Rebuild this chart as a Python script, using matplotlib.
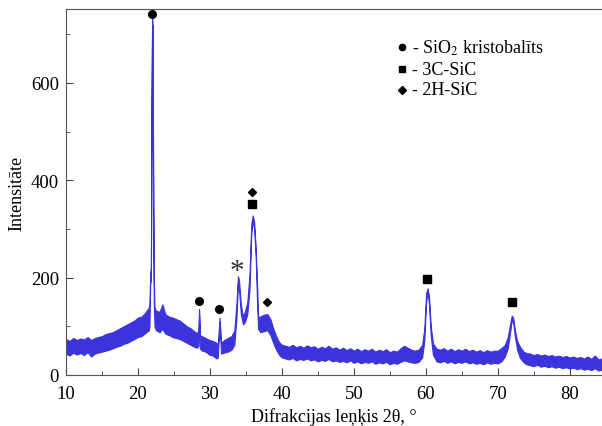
import matplotlib.pyplot as plt
from matplotlib.ticker import MultipleLocator

plt.rcParams['font.family'] = ['Liberation Serif', 'DejaVu Serif']
plt.rcParams['mathtext.fontset'] = 'stix'

# 2theta positions and the lower / upper edge of the noisy trace
two_theta = [10, 10.5, 11, 11.5, 12, 12.5, 13, 13.5, 14, 14.5, 15, 15.5, 16, 16.5, 17, 17.5,
             18, 18.5, 19, 19.5, 20, 20.5, 21, 21.5,
             21.6, 21.7, 21.8, 21.9, 21.97, 22.04, 22.12, 22.2, 22.3,
             22.5, 23.0, 23.4, 23.8, 24.3, 24.8, 25.3, 25.8, 26.3, 26.8, 27.3, 27.8, 28.2, 28.4,
             28.5, 28.6, 28.9, 29.4, 29.9, 30.4, 30.9, 31.1, 31.35, 31.55, 32.0, 32.5, 33.0, 33.4,
             33.7, 33.9, 34.05, 34.3, 34.6, 34.9, 35.2, 35.5, 35.75, 35.95, 36.15, 36.35, 36.55,
             36.7, 37.0, 37.5, 38.0, 38.4, 38.8, 39.2, 39.6, 40.0,
             40.5, 41, 41.5, 42, 42.5, 43, 43.5, 44, 44.5, 45, 45.5, 46, 46.5, 47, 47.5, 48, 48.5,
             49, 49.5, 50, 50.5, 51, 51.5, 52, 52.5, 53, 53.5, 54, 54.5, 55, 55.5, 56, 56.5, 57,
             57.5, 58, 58.5, 59, 59.5,
             59.8, 60.05, 60.25, 60.45, 60.7, 61.0, 61.5,
             62, 62.5, 63, 63.5, 64, 64.5, 65, 65.5, 66, 66.5, 67, 67.5, 68, 68.5, 69, 69.5, 70, 70.5,
             71.0, 71.4, 71.7, 71.95, 72.15, 72.4, 72.7, 73.1, 73.6, 74.0,
             74.5, 75, 75.5, 76, 76.5, 77, 77.5, 78, 78.5, 79, 79.5, 80, 80.5, 81, 81.5, 82, 82.5,
             83, 83.5, 84, 84.5]
i_low = [44, 40, 46, 42, 45, 41, 47, 38, 44, 46, 48, 50, 52, 55, 58, 60,
         64, 66, 70, 74, 78, 80, 86, 92,
         100, 185, 195, 560, 720, 690, 350, 150, 100,
         92, 88, 95, 85, 82, 78, 76, 74, 70, 66, 62, 58, 56, 60,
         125, 55, 50, 48, 42, 40, 34, 36, 108, 44, 46, 48, 52, 62,
         120, 190, 175, 125, 104, 110, 125, 175, 290, 318, 300, 250, 150,
         95, 88, 90, 92, 82, 66, 52, 42, 36,
         34, 32, 35, 30, 33, 31, 34, 30, 32, 28, 31, 29, 33, 28, 30, 27, 29,
         26, 30, 25, 28, 24, 27, 25, 28, 23, 26, 24, 27, 22, 25, 23, 27, 30,
         28, 26, 25, 27, 36,
         70, 150, 170, 145, 80, 42, 28,
         26, 29, 25, 28, 24, 27, 25, 28, 24, 26, 23, 25, 22, 26, 23, 25, 24, 28,
         38, 55, 85, 112, 108, 78, 52, 35, 26, 22,
         20, 18, 21, 17, 19, 16, 18, 15, 17, 14, 16, 13, 15, 12, 14, 11, 13,
         10, 14, 9, 11]
i_high = [74, 70, 76, 72, 75, 73, 78, 72, 76, 78, 80, 84, 86, 88, 92, 96,
          100, 104, 108, 112, 118, 120, 128, 138,
          145, 210, 220, 600, 735, 710, 380, 200, 140,
          132, 130, 145, 125, 120, 118, 115, 112, 106, 100, 96, 90, 86, 90,
          136, 82, 80, 76, 72, 70, 66, 62, 118, 66, 72, 76, 80, 92,
          150, 203, 195, 145, 120, 132, 150, 205, 310, 328, 315, 265, 190,
          120, 120, 124, 125, 115, 96, 80, 68, 62,
          60, 58, 62, 57, 60, 56, 61, 57, 59, 54, 58, 55, 60, 54, 57, 52, 56,
          51, 55, 50, 54, 49, 53, 50, 54, 48, 52, 49, 53, 47, 50, 48, 55, 60,
          56, 52, 50, 52, 62,
          95, 168, 178, 162, 100, 65, 54,
          52, 55, 50, 54, 49, 53, 50, 54, 49, 52, 48, 51, 47, 51, 48, 50, 50, 55,
          62, 78, 102, 122, 118, 92, 70, 58, 48, 45,
          44, 41, 43, 40, 42, 39, 41, 38, 40, 37, 39, 36, 38, 35, 37, 34, 38,
          33, 40, 32, 34]

# phase markers
cristobalite_x = [21.95, 28.47, 31.3]
cristobalite_y = [742, 153, 136]
sic3c_x = [35.9, 60.2, 72.0]
sic3c_y = [352, 198, 150]
sic2h_x = [35.9, 38.0]
sic2h_y = [376, 151]
unknown_x = [33.8]
unknown_y = [225]

legend_labels = ['- SiO$_2$ kristobalīts', '- 3C-SiC', '- 2H-SiC']

blue = '#3b33dc'

fig = plt.figure(figsize=(6.02, 4.27), dpi=100)
ax = fig.add_axes([66 / 602, 51 / 427, 536 / 602, 366 / 427])

ax.fill_between(two_theta, i_low, i_high, color=blue, lw=0.8, edgecolor=blue)

ax.plot(cristobalite_x, cristobalite_y, 'o', color='black', ms=5.5, ls='none')
ax.plot(sic3c_x, sic3c_y, 's', color='black', ms=6, ls='none')
ax.plot(sic2h_x, sic2h_y, 'D', color='black', ms=4.5, ls='none')
for x, y in zip(unknown_x, unknown_y):
    ax.text(x, y - 12, '*', fontsize=21, ha='center', va='center', color='#333333')

# legend drawn by hand
leg_y = [0.896, 0.836, 0.779]
leg_markers = [('o', 4.5), ('s', 5), ('D', 3.8)]
for (m, s), y, lab in zip(leg_markers, leg_y, legend_labels):
    ax.plot([0.627], [y], m, color='black', ms=s, transform=ax.transAxes, clip_on=False)
    ax.text(0.646, y, lab, fontsize=13, va='center', ha='left', transform=ax.transAxes)

ax.set_xlim(10, 84.5)
ax.set_ylim(0, 752)
ax.xaxis.set_major_locator(MultipleLocator(10))
ax.xaxis.set_minor_locator(MultipleLocator(5))
ax.yaxis.set_major_locator(MultipleLocator(200))
ax.yaxis.set_minor_locator(MultipleLocator(100))
ax.tick_params(which='both', direction='in', top=False, right=False, colors='#444444',
               labelcolor='black', labelsize=13.5)
ax.tick_params(which='major', length=5)
ax.tick_params(which='minor', length=3)
ax.tick_params(axis='x', pad=7)
ax.tick_params(axis='y', pad=5)
ax.spines['right'].set_visible(False)
for sp in ['left', 'bottom', 'top']:
    ax.spines[sp].set_color('#555555')

ax.set_xlabel('Difrakcijas leņķis 2θ, °', fontsize=13, labelpad=4)
ax.set_ylabel('Intensitāte', fontsize=13, labelpad=4)

fig.savefig('out.png', dpi=100)
